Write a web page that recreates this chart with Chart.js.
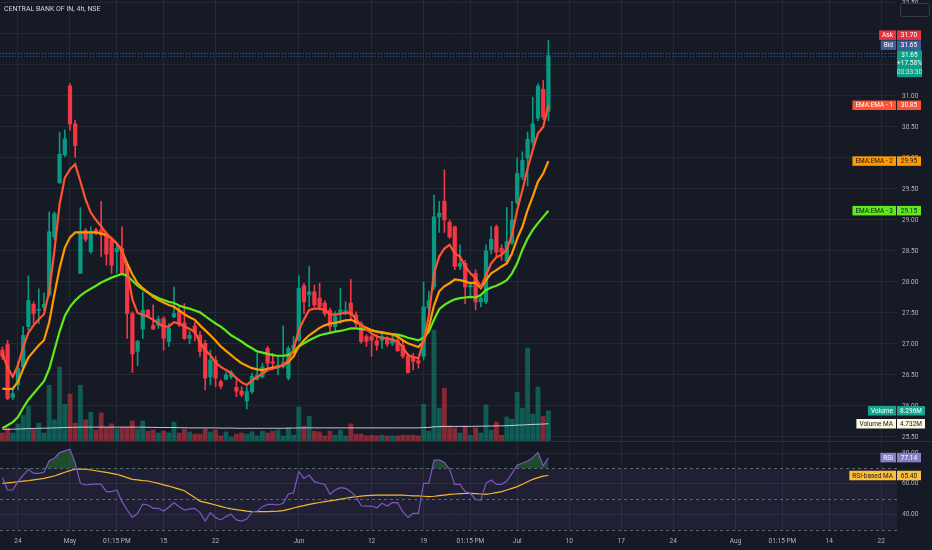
<!DOCTYPE html>
<html><head><meta charset="utf-8">
<script src="https://cdn.jsdelivr.net/npm/chart.js@4.4.1/dist/chart.umd.min.js"></script>
<style>
html,body{margin:0;padding:0;background:#161A25;width:932px;height:550px;overflow:hidden;}
#wrap{position:relative;width:932px;height:550px;}
#c1{position:absolute;left:0;top:0;}
#c2{position:absolute;left:0;top:441px;}
#title{position:absolute;left:4px;top:5px;font:7px Roboto, sans-serif;color:#D1D4DC;white-space:nowrap;}
</style></head>
<body><div id="wrap">
<canvas id="c1" width="932" height="441"></canvas>
<canvas id="c2" width="932" height="109"></canvas>
<div id="title">CENTRAL BANK OF IN, 4h, NSE</div>
</div>
<script>
// ---------- DATA ----------
const opens = [26.90,26.99,26.14,26.34,26.63,27.28,27.64,27.54,27.59,27.79,
 28.73,29.60,30.05,31.16,30.55,28.14,28.83,28.49,28.84,28.84,
 28.78,28.68,28.49,28.54,28.22,27.49,26.88,27.24,27.54,27.30,
 27.30,27.41,27.04,27.44,27.54,27.34,27.09,27.29,27.14,27.01,
 26.47,26.74,26.39,26.43,26.47,26.30,26.24,26.08,26.23,26.43,
 26.47,26.93,26.71,26.61,26.63,26.45,26.93,27.06,27.94,27.79,
 27.84,27.74,27.66,27.54,27.28,27.49,27.49,27.66,27.47,27.33,
 27.12,27.12,27.05,27.06,27.09,27.01,27.06,26.98,26.80,26.80,
 26.73,26.80,27.58,27.92,29.05,29.30,28.96,28.89,28.25,28.30,
 27.92,28.14,27.68,27.68,28.52,28.89,28.54,28.33,28.63,29.28,
 29.69,30.00,30.25,30.64,31.11,30.75];
const highs = [26.95,27.06,26.26,26.71,27.28,28.10,27.68,27.89,27.82,29.13,
 29.13,30.41,30.45,31.20,30.61,29.20,28.86,28.89,28.87,29.30,
 28.81,28.73,28.62,28.89,28.25,27.52,27.06,27.84,27.56,27.63,
 27.45,27.44,27.33,27.92,27.60,27.65,27.20,27.35,27.20,27.06,
 26.90,26.80,26.42,26.54,26.57,26.42,26.31,26.31,26.53,26.85,
 26.69,26.96,26.85,26.80,27.29,26.96,27.12,28.10,27.98,28.25,
 27.95,27.98,27.70,27.58,27.52,27.90,27.68,28.04,27.52,27.36,
 27.15,27.17,27.15,27.16,27.12,27.14,27.12,27.06,26.85,26.85,
 26.77,28.00,27.85,29.40,29.30,29.81,29.00,28.90,28.60,28.35,
 28.00,28.20,27.80,28.60,28.90,28.92,28.60,29.20,29.30,30.00,
 30.10,30.42,30.98,31.20,31.25,31.90];
const lows = [26.75,26.10,26.10,26.26,26.61,27.22,27.33,27.33,27.55,27.76,
 28.68,29.59,30.02,30.45,30.01,28.14,28.65,28.46,28.76,28.41,
 28.27,28.14,28.14,28.14,27.09,26.54,26.65,27.09,27.43,27.23,
 27.25,26.90,26.96,27.42,27.28,27.07,27.00,27.05,26.80,26.26,
 26.34,26.31,26.28,26.42,26.44,26.15,26.15,25.95,26.20,26.42,
 26.45,26.58,26.61,26.50,26.61,26.42,26.90,27.04,27.49,27.60,
 27.60,27.55,27.45,27.20,27.20,27.33,27.47,27.39,27.28,27.01,
 26.96,26.80,26.90,26.93,26.96,26.98,26.88,26.77,26.53,26.58,
 26.61,26.74,27.50,27.87,28.80,28.80,28.70,28.20,28.20,27.65,
 27.75,27.55,27.60,27.65,28.45,28.40,28.35,28.30,28.60,29.25,
 29.65,29.55,30.20,30.60,30.62,30.60];
const closes = [26.80,26.12,26.20,26.61,27.14,27.70,27.49,27.56,27.64,28.81,
 29.10,30.06,30.31,30.55,30.20,28.81,28.69,28.81,28.78,28.76,
 28.45,28.27,28.54,28.14,27.49,26.84,27.04,27.54,27.45,27.24,
 27.40,27.09,27.25,27.49,27.31,27.09,27.14,27.18,26.88,26.45,
 26.74,26.45,26.32,26.50,26.54,26.24,26.18,26.23,26.48,26.50,
 26.63,26.69,26.69,26.66,26.70,26.93,26.98,27.90,27.68,27.84,
 27.63,27.60,27.49,27.28,27.44,27.55,27.54,27.47,27.33,27.04,
 27.04,27.06,26.98,27.12,27.00,27.09,26.89,26.80,26.54,26.72,
 26.69,27.60,27.70,29.05,29.11,29.00,28.73,28.25,28.30,27.92,
 27.95,27.68,27.74,28.50,28.69,28.48,28.48,28.65,29.00,29.75,
 29.96,30.30,30.55,31.16,30.66,31.65];
const volumes = [2.2,3.6,2.2,4.7,7.1,9.6,3.3,4.9,2.2,15.3,
 5.8,20.3,10.1,12.9,4.9,15.3,5.8,7.9,3.0,7.7,
 3.8,4.7,3.3,3.8,3.8,5.5,3.3,5.5,2.7,3.0,
 2.2,2.7,2.2,5.2,2.2,3.3,2.5,1.9,1.9,3.3,
 2.5,3.0,1.4,2.5,1.1,1.9,2.2,1.9,2.5,1.4,
 2.7,2.2,2.7,3.0,1.4,3.6,1.6,9.3,4.1,6.8,
 2.7,2.5,1.4,2.7,1.6,3.0,1.4,4.7,1.9,1.9,
 1.4,1.6,1.4,1.6,1.4,1.4,1.4,1.6,1.6,1.6,
 1.4,10.1,2.7,30.4,9.0,14.5,4.1,3.6,2.2,4.1,
 1.6,3.6,2.2,9.9,3.0,5.2,1.6,6.6,6.0,13.4,
 9.0,25.5,7.4,14.8,6.8,8.296];
const volumeMA = [3.2,3.2,3.25,3.3,3.35,3.4,3.45,3.5,3.5,3.55,
 3.6,3.65,3.7,3.75,3.75,3.8,3.8,3.8,3.8,3.8,
 3.8,3.8,3.8,3.8,3.8,3.8,3.8,3.8,3.75,3.75,
 3.7,3.7,3.7,3.7,3.65,3.65,3.6,3.6,3.6,3.6,
 3.6,3.6,3.55,3.55,3.55,3.5,3.5,3.5,3.5,3.5,
 3.5,3.5,3.5,3.5,3.5,3.55,3.55,3.6,3.6,3.6,
 3.6,3.6,3.6,3.6,3.6,3.6,3.6,3.6,3.6,3.6,
 3.6,3.6,3.6,3.6,3.6,3.6,3.6,3.6,3.6,3.6,
 3.6,3.7,3.7,3.9,3.95,4.0,4.0,4.0,4.0,4.0,
 4.0,4.05,4.05,4.1,4.1,4.15,4.15,4.2,4.25,4.35,
 4.4,4.5,4.55,4.6,4.65,4.732];
const ema1 = [26.85,26.62,26.47,26.66,26.95,27.18,27.30,27.40,27.48,27.85,
 28.50,29.25,29.68,29.82,29.90,29.62,29.33,29.12,29.00,28.90,
 28.78,28.70,28.62,28.52,28.19,27.72,27.50,27.47,27.44,27.39,
 27.33,27.28,27.28,27.35,27.33,27.28,27.24,27.20,27.02,26.90,
 26.82,26.70,26.63,26.58,26.53,26.45,26.38,26.34,26.41,26.47,
 26.52,26.58,26.60,26.63,26.66,26.74,26.92,27.22,27.40,27.55,
 27.57,27.57,27.55,27.48,27.47,27.49,27.50,27.50,27.40,27.30,
 27.23,27.17,27.12,27.10,27.09,27.07,27.04,26.95,26.82,26.79,
 26.77,27.05,27.45,28.14,28.41,28.54,28.60,28.46,28.41,28.25,
 28.14,28.06,27.92,28.11,28.30,28.40,28.44,28.52,28.76,29.16,
 29.48,29.83,30.13,30.40,30.50,30.85];
const ema2 = [26.28,26.27,26.28,26.39,26.60,26.78,26.88,26.98,27.06,27.35,
 27.80,28.22,28.55,28.72,28.80,28.80,28.80,28.80,28.80,28.78,
 28.76,28.70,28.62,28.50,28.30,28.12,27.98,27.90,27.83,27.76,
 27.71,27.67,27.63,27.60,27.54,27.48,27.43,27.39,27.30,27.22,
 27.14,27.05,26.96,26.89,26.82,26.75,26.69,26.65,26.61,26.59,
 26.58,26.60,26.62,26.63,26.66,26.71,26.80,26.96,27.06,27.14,
 27.20,27.26,27.30,27.33,27.34,27.36,27.38,27.39,27.36,27.30,
 27.26,27.22,27.20,27.18,27.17,27.15,27.12,27.06,27.01,26.98,
 26.95,27.04,27.27,27.62,27.85,27.93,27.98,28.04,28.03,28.01,
 27.98,27.99,27.90,28.03,28.14,28.19,28.25,28.30,28.46,28.70,
 28.89,29.16,29.38,29.62,29.75,29.95];
const ema3 = [25.64,25.69,25.74,25.82,25.97,26.10,26.20,26.30,26.40,26.60,
 26.90,27.20,27.45,27.60,27.70,27.78,27.84,27.89,27.94,27.99,
 28.03,28.07,28.10,28.13,28.10,28.02,27.94,27.88,27.83,27.78,
 27.74,27.71,27.68,27.66,27.62,27.59,27.57,27.54,27.51,27.45,
 27.39,27.33,27.28,27.21,27.14,27.09,27.04,26.98,26.93,26.88,
 26.86,26.84,26.82,26.81,26.81,26.82,26.87,26.96,27.01,27.06,
 27.10,27.14,27.16,27.18,27.20,27.21,27.23,27.25,27.25,27.24,
 27.23,27.22,27.20,27.19,27.17,27.16,27.15,27.13,27.10,27.08,
 27.06,27.10,27.20,27.39,27.56,27.63,27.68,27.72,27.74,27.75,
 27.76,27.75,27.79,27.87,27.91,27.94,27.98,28.03,28.14,28.30,
 28.52,28.70,28.84,28.95,29.05,29.15];
const rsi = [64.0,55.9,55.9,61.4,65.7,69.5,66.8,66.8,67.5,75.1,
 76.7,80.4,81.5,82.6,73.4,60.3,59.2,59.6,59.9,59.6,
 54.8,54.8,55.9,48.3,42.8,38.0,40.6,46.7,46.1,43.9,
 43.9,42.1,44.6,47.6,45.0,42.8,43.5,43.9,41.1,35.6,
 41.1,37.8,36.3,38.5,40.0,36.3,35.6,36.9,41.7,42.1,
 45.0,46.5,46.5,46.1,47.2,53.3,54.1,67.9,63.5,65.7,
 61.4,60.3,59.6,53.1,55.9,57.4,57.0,54.8,51.5,45.6,
 45.4,45.4,44.3,47.2,45.4,47.6,47.6,41.7,38.0,40.6,
 40.6,60.3,60.3,75.3,75.7,74.0,69.5,59.6,59.6,54.8,
 53.7,49.7,49.3,60.3,62.5,59.6,59.6,61.8,66.8,72.3,
 73.4,74.9,77.1,80.4,71.8,77.14];
const rsiMA = [60.3,60.6,60.9,61.3,61.7,62.1,62.6,63.0,63.5,64.3,
 65.1,66.3,67.5,68.6,69.5,69.6,69.5,69.0,68.5,67.9,
 67.4,66.8,66.2,65.2,64.0,62.9,62.5,62.1,61.8,61.0,
 60.2,59.3,58.5,57.5,56.5,55.4,53.2,51.0,48.6,47.8,
 47.0,46.1,45.2,44.3,43.5,43.0,42.6,42.1,41.7,41.7,
 41.7,41.7,41.9,42.1,42.4,43.2,44.1,45.0,45.7,46.5,
 47.2,47.7,48.3,48.8,49.3,49.9,50.5,51.1,51.5,51.9,
 52.2,52.4,52.5,52.6,52.6,52.6,52.6,52.5,52.3,52.1,
 52.0,51.8,51.6,51.8,52.2,52.6,53.0,53.3,53.5,53.6,
 53.7,53.5,53.3,53.1,53.6,54.2,54.8,55.9,57.0,58.1,
 59.7,61.3,62.9,64.0,65.0,65.40];
const tickBars = [3,13,22,31,41,57,71,81,90,99,109,119,129,141,150,159,169];
const tickLabels = ['24','May','01:15 PM','15','22','Jun','12','19','01:15 PM','Jul','10','17','24','Aug','01:15 PM','14','22'];
const priceTicks = [25.5,26,26.5,27,27.5,28,28.5,29,29.5,30,30.5,31,31.5,32,32.5];
const rsiTicks = [40, 60, 80];
const askPrice = 31.70, bidPrice = 31.65;
const changeText = '+17.58%', countdownText = '03:33:30';
const rsiBands = [70, 50, 30];

// ---------- STYLE ----------
const FONT = 'Roboto, "Noto Sans", sans-serif';
const UP = '#089981', DOWN = '#F23645';
const UPV = 'rgba(8,153,129,0.5)', DOWNV = 'rgba(242,54,69,0.5)';
const C_EMA1 = '#FF5232', C_EMA2 = '#FF9A00', C_EMA3 = '#5EEA1C';
const C_RSI = '#7E57C2', C_RSIMA = '#F5B72E';
const GRID = 'rgba(48,53,66,0.55)';
const TICK = '#B2B5BE';
const X_MIN = -0.46, X_MAX = 172.04;
Chart.defaults.font.family = FONT;

const last = closes.length - 1;
const pts = arr => arr.map((v, i) => ({x: i, y: v}));
const isUp = i => closes[i] >= opens[i];
const candleColors = closes.map((c, i) => isUp(i) ? UP : DOWN);
const volColors = closes.map((c, i) => isUp(i) ? UPV : DOWNV);

function drawTag(ctx, y, label, value, bg, fg, labelBg) {
  ctx.save();
  ctx.font = '6.5px ' + FONT;
  const h = 9.5, x0 = 897;
  const vw = Math.max(24, ctx.measureText(value).width + 6);
  ctx.fillStyle = bg;
  ctx.fillRect(x0, y - h / 2, vw, h);
  let lw = 0;
  if (label) {
    lw = ctx.measureText(label).width + 6;
    ctx.fillStyle = labelBg || bg;
    ctx.fillRect(x0 - lw - 1, y - h / 2, lw, h);
  }
  ctx.fillStyle = fg; ctx.textAlign = 'center'; ctx.textBaseline = 'middle';
  ctx.fillText(value, x0 + vw / 2, y + 0.5);
  if (label) ctx.fillText(label, x0 - 1 - lw / 2, y + 0.5);
  ctx.restore();
}

const xScaleBase = (showLabels) => ({
  type: 'linear', min: X_MIN, max: X_MAX, offset: false,
  grid: {color: GRID, drawTicks: false, offset: false},
  border: {display: false},
  ticks: {display: showLabels, color: TICK, font: {size: 6.5}, padding: 5,
          autoSkip: false, maxRotation: 0, minRotation: 0,
          callback: v => { const k = tickBars.indexOf(v); return k >= 0 ? tickLabels[k] : ''; }},
  afterBuildTicks: s => { s.ticks = tickBars.map(v => ({value: v})); },
  afterFit: s => { s.height = showLabels ? 18 : 0; s.paddingLeft = 0; s.paddingRight = 0; }
});

const yScaleBase = (min, max, tickList) => ({
  position: 'right', min: min, max: max,
  grid: {color: GRID, drawTicks: false}, border: {display: false},
  ticks: {color: TICK, font: {size: 6.5}, padding: 5, autoSkip: false, callback: v => v.toFixed(2)},
  afterBuildTicks: s => { s.ticks = tickList.map(v => ({value: v})); },
  afterFit: s => { s.width = 35; s.paddingTop = 0; s.paddingBottom = 0; }
});

// ---------- PRICE PANE ----------
const priceOverlay = {
  id: 'priceOverlay',
  beforeDatasetsDraw(chart) {
    const {ctx, chartArea: a, scales: {y}} = chart;
    [[askPrice, 'rgba(242,54,69,0.85)'], [bidPrice, 'rgba(41,98,255,0.7)']].forEach(([p, c]) => {
      const py = Math.round(y.getPixelForValue(p)) + 0.5;
      ctx.save(); ctx.strokeStyle = c; ctx.lineWidth = 1; ctx.setLineDash([1, 2]);
      ctx.beginPath(); ctx.moveTo(a.left, py); ctx.lineTo(a.right, py); ctx.stroke(); ctx.restore();
    });
  },
  afterDraw(chart) {
    const {ctx, scales: {y, yVol}} = chart;
    drawTag(ctx, y.getPixelForValue(ema1[last]), 'EMA:EMA - 1', ema1[last].toFixed(2), C_EMA1, '#FFFFFF');
    drawTag(ctx, y.getPixelForValue(ema2[last]), 'EMA:EMA - 2', ema2[last].toFixed(2), C_EMA2, '#131722');
    drawTag(ctx, y.getPixelForValue(ema3[last]), 'EMA:EMA - 3', ema3[last].toFixed(2), C_EMA3, '#131722');
    drawTag(ctx, yVol.getPixelForValue(volumes[last]), 'Volume', volumes[last].toFixed(3) + 'M', '#15A58C', '#FFFFFF');
    drawTag(ctx, yVol.getPixelForValue(volumeMA[last]), 'Volume MA', volumeMA[last].toFixed(3) + 'M', '#FFF8E1', '#131722');
    const ly = y.getPixelForValue(closes[last]);
    ctx.save();
    ctx.fillStyle = '#0C9E86';
    ctx.fillRect(897, ly - 5.5, 25, 27);
    ctx.font = '6.5px ' + FONT; ctx.textAlign = 'center'; ctx.textBaseline = 'middle';
    ctx.fillStyle = '#FFFFFF';
    ctx.fillText(closes[last].toFixed(2), 909.5, ly);
    ctx.fillText(changeText, 909.5, ly + 8);
    ctx.fillStyle = 'rgba(255,255,255,0.8)';
    ctx.fillText(countdownText, 909.5, ly + 16.5);
    ctx.restore();
    drawTag(ctx, ly - 10.5, 'Bid', bidPrice.toFixed(2), '#3F5E9E', '#FFFFFF');
    drawTag(ctx, ly - 20.5, 'Ask', askPrice.toFixed(2), '#E8343F', '#FFFFFF');
    ctx.save();
    ctx.fillStyle = '#161A25'; ctx.strokeStyle = '#363A45'; ctx.lineWidth = 1;
    ctx.beginPath(); ctx.roundRect(900.5, 3.5, 29, 13, 2); ctx.fill(); ctx.stroke();
    ctx.restore();
  }
};

new Chart(document.getElementById('c1'), {
  type: 'bar',
  data: {datasets: [
    {type: 'line', data: pts(ema1), borderColor: C_EMA1, borderWidth: 2.2, pointRadius: 0, yAxisID: 'y', order: 1},
    {type: 'line', data: pts(ema2), borderColor: C_EMA2, borderWidth: 2.2, pointRadius: 0, yAxisID: 'y', order: 2},
    {type: 'line', data: pts(ema3), borderColor: C_EMA3, borderWidth: 2.2, pointRadius: 0, yAxisID: 'y', order: 3},
    {type: 'bar', data: opens.map((o, i) => ({x: i, y: [o, closes[i]]})), backgroundColor: candleColors,
     barThickness: 3.6, minBarLength: 1, grouped: false, yAxisID: 'y', order: 4},
    {type: 'bar', data: lows.map((l, i) => ({x: i, y: [l, highs[i]]})), backgroundColor: candleColors,
     barThickness: 1, grouped: false, yAxisID: 'y', order: 5},
    {type: 'line', data: pts(volumeMA), borderColor: 'rgba(226,229,236,0.85)', borderWidth: 1, pointRadius: 0, yAxisID: 'yVol', order: 9},
    {type: 'bar', data: pts(volumes), backgroundColor: volColors, barThickness: 4.2, grouped: false, yAxisID: 'yVol', order: 10}
  ]},
  options: {
    responsive: false, animation: false, events: [],
    layout: {padding: 0},
    plugins: {legend: {display: false}, tooltip: {enabled: false}},
    scales: {
      x: xScaleBase(false),
      y: yScaleBase(25.435, 32.548, priceTicks),
      yVol: {display: false, min: 0, max: 121}
    }
  },
  plugins: [priceOverlay]
});

// ---------- RSI PANE ----------
const rsiOverlay = {
  id: 'rsiOverlay',
  beforeDatasetsDraw(chart) {
    const {ctx, chartArea: a, scales: {y}} = chart;
    const yTop = y.getPixelForValue(rsiBands[0]), yBot = y.getPixelForValue(rsiBands[2]);
    ctx.save();
    ctx.fillStyle = 'rgba(126,87,194,0.1)';
    ctx.fillRect(a.left, yTop, a.right - a.left, yBot - yTop);
    ctx.strokeStyle = 'rgba(120,123,134,0.75)'; ctx.lineWidth = 1; ctx.setLineDash([3, 3]);
    rsiBands.forEach(b => {
      const py = Math.round(y.getPixelForValue(b)) + 0.5;
      ctx.beginPath(); ctx.moveTo(a.left, py); ctx.lineTo(a.right, py); ctx.stroke();
    });
    ctx.restore();
  },
  afterDraw(chart) {
    const {ctx, scales: {y}} = chart;
    ctx.save(); ctx.strokeStyle = '#2A2E39'; ctx.lineWidth = 1;
    ctx.beginPath(); ctx.moveTo(0, 0.5); ctx.lineTo(932, 0.5); ctx.stroke(); ctx.restore();
    drawTag(ctx, y.getPixelForValue(rsi[last]), 'RSI', rsi[last].toFixed(2), '#8480C6', '#FFFFFF');
    drawTag(ctx, y.getPixelForValue(rsiMA[last]), 'RSI-based MA', rsiMA[last].toFixed(2), '#FBBF3C', '#131722');
  }
};

new Chart(document.getElementById('c2'), {
  type: 'line',
  data: {datasets: [
    {data: pts(rsi), borderColor: C_RSI, borderWidth: 1.2, pointRadius: 0, order: 1,
     fill: {value: rsiBands[0], above: 'rgba(46,150,60,0.4)', below: 'rgba(0,0,0,0)'}},
    {data: pts(rsiMA), borderColor: C_RSIMA, borderWidth: 1.2, pointRadius: 0, order: 2, fill: false}
  ]},
  options: {
    responsive: false, animation: false, events: [],
    layout: {padding: 0},
    plugins: {legend: {display: false}, tooltip: {enabled: false}},
    scales: {
      x: xScaleBase(true),
      y: yScaleBase(28.4, 88, rsiTicks)
    }
  },
  plugins: [rsiOverlay]
});
</script>
</body></html>
